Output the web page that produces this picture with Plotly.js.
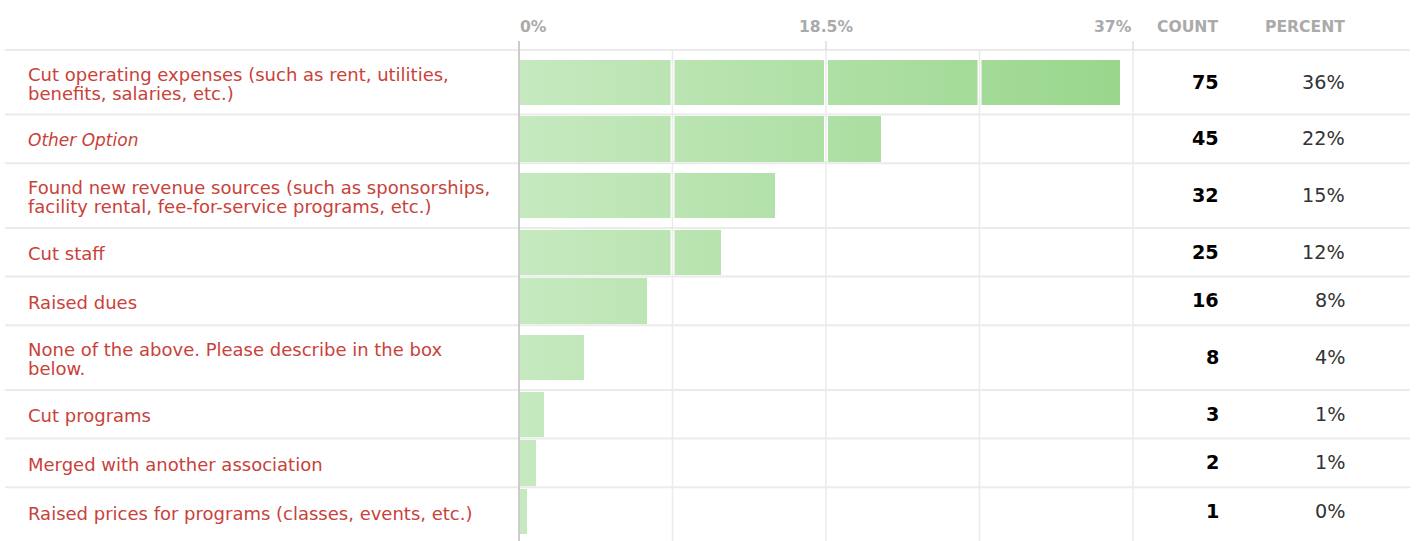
<!DOCTYPE html>
<html><head><meta charset="utf-8">
<script src="https://cdn.plot.ly/plotly-3.0.1.min.js"></script>
<style>html,body{margin:0;padding:0;background:#fff;} #chart{width:1417px;height:541px;}</style>
</head><body><div id="chart"></div>
<script>
// ---- data ----
const categories = [
  'Cut operating expenses (such as rent, utilities,<br>benefits, salaries, etc.)',
  'Other Option',
  'Found new revenue sources (such as sponsorships,<br>facility rental, fee-for-service programs, etc.)',
  'Cut staff',
  'Raised dues',
  'None of the above. Please describe in the box<br>below.',
  'Cut programs',
  'Merged with another association',
  'Raised prices for programs (classes, events, etc.)'
];
const counts = [75, 45, 32, 25, 16, 8, 3, 2, 1];
const percentLabels = ['36%', '22%', '15%', '12%', '8%', '4%', '1%', '1%', '0%'];
const barPercents = [36.2, 21.8, 15.4, 12.2, 7.7, 3.9, 1.5, 1.0, 0.5];
const axisMax = 37;
const tickValues = [0, 18.5, 37];
const tickLabels = ['0%', '18.5%', '37%'];
const gridValues = [9.25, 18.5, 27.75, 37];
const columnHeaders = ['COUNT', 'PERCENT'];
const italicCategories = ['Other Option'];

// ---- layout constants ----
const W = 1417, H = 541, L = 519, R = 1133, T = 50;
const plotW = R - L, plotH = H - T;
const ONE = 48.7, TWO = 64.6, LINE = 19.3, BAR = 45.5;
const FONT = 'DejaVu Sans';
const px2paperX = px => (px - L) / plotW;
const y2paper = y => 1 - y / plotH;

const lines = categories.map(c => c.split('<br>'));
const heights = lines.map(l => l.length > 1 ? TWO : ONE);
const tops = []; let acc = 0;
heights.forEach(h => { tops.push(acc); acc += h; });
const centers = tops.map((t, i) => t + heights[i] / 2);

const trace = {
  type: 'bar', orientation: 'h',
  x: barPercents, y: centers, width: BAR,
  marker: {color: '#b5e2ab', line: {width: 0}},
  hoverinfo: 'skip', showlegend: false
};

const shapes = [];
// row separators
tops.forEach(t => shapes.push({type: 'line', xref: 'paper', yref: 'paper',
  x0: px2paperX(5), x1: px2paperX(1410), y0: y2paper(t), y1: y2paper(t),
  line: {color: '#ebebeb', width: 2}, layer: 'below'}));
// white gaps in bars at grid positions
barPercents.forEach((v, i) => {
  gridValues.forEach(g => {
    if (g < v) shapes.push({type: 'line', xref: 'paper', yref: 'paper',
      x0: g / axisMax, x1: g / axisMax,
      y0: y2paper(centers[i] - BAR / 2), y1: y2paper(centers[i] + BAR / 2),
      line: {color: '#ffffff', width: 4}, layer: 'above'});
  });
});
// vertical grid lines
gridValues.forEach(g => shapes.push({type: 'line', xref: 'paper', yref: 'paper',
  x0: g / axisMax, x1: g / axisMax, y0: 0, y1: 1,
  line: {color: '#ebebeb', width: 1.5}, layer: 'above'}));
// tick marks above header line
tickValues.forEach(v => shapes.push({type: 'line', xref: 'paper', yref: 'paper',
  x0: v / axisMax, x1: v / axisMax, y0: 1, y1: 1 + 9 / plotH,
  line: {color: '#cccccc', width: 1}, layer: 'above'}));
// zero line
shapes.push({type: 'line', xref: 'paper', yref: 'paper', x0: 0, x1: 0, y0: 0, y1: 1 + 9 / plotH,
  line: {color: '#cccccc', width: 2}, layer: 'above'});

const annotations = [];
const headerY = 1 + (T - 26.5) / plotH;
tickLabels.forEach((t, i) => annotations.push({
  text: t, xref: 'paper', yref: 'paper', x: tickValues[i] / axisMax, y: headerY,
  xanchor: i === 0 ? 'left' : (i === tickLabels.length - 1 ? 'right' : 'center'),
  yanchor: 'middle', showarrow: false, borderpad: 0,
  font: {family: FONT, size: 15.6, color: '#aaaaaa', weight: 'bold'}
}));
const headerRight = [1218.5, 1345.5];
columnHeaders.forEach((t, i) => annotations.push({
  text: t, xref: 'paper', yref: 'paper', x: px2paperX(headerRight[i]), y: headerY,
  xanchor: 'right', align: 'right', yanchor: 'middle', showarrow: false, borderpad: 0,
  font: {family: FONT, size: 15.6, color: '#aaaaaa', weight: 'bold'}
}));
lines.forEach((ls, i) => {
  const italic = italicCategories.includes(categories[i]);
  ls.forEach((txt, j) => annotations.push({
    text: txt, xref: 'paper', yref: 'y', x: px2paperX(27),
    y: centers[i] + (j - (ls.length - 1) / 2) * LINE + 1.5,
    xanchor: 'left', align: 'left', yanchor: 'middle', showarrow: false, borderpad: 0,
    font: {family: FONT, size: italic ? 17 : 18, color: '#c8423a', style: italic ? 'italic' : 'normal'}
  }));
  annotations.push({
    text: String(counts[i]), xref: 'paper', yref: 'y', x: px2paperX(1219.5), y: centers[i],
    xanchor: 'right', align: 'right', yanchor: 'middle', showarrow: false, borderpad: 0,
    font: {family: FONT, size: 19.2, color: '#000000', weight: 'bold'}
  });
  annotations.push({
    text: percentLabels[i], xref: 'paper', yref: 'y', x: px2paperX(1346), y: centers[i],
    xanchor: 'right', align: 'right', yanchor: 'middle', showarrow: false, borderpad: 0,
    font: {family: FONT, size: 19.2, color: '#333333'}
  });
});

const layout = {
  width: W, height: H,
  margin: {l: L, r: W - R, t: T, b: 0, pad: 0},
  paper_bgcolor: '#ffffff', plot_bgcolor: '#ffffff',
  xaxis: {range: [0, axisMax], showgrid: false, zeroline: false, showticklabels: false,
          ticks: '', showline: false, fixedrange: true},
  yaxis: {range: [plotH, 0], showgrid: false, zeroline: false, showticklabels: false,
          ticks: '', showline: false, fixedrange: true},
  bargap: 0, showlegend: false,
  shapes: shapes, annotations: annotations,
  font: {family: FONT}
};

const gd = document.getElementById('chart');
Plotly.newPlot(gd, [trace], layout, {staticPlot: true, displayModeBar: false}).then(() => {
  const ns = 'http://www.w3.org/2000/svg';
  const svg = gd.querySelector('svg.main-svg');
  let defs = svg.querySelector('defs');
  if (!defs) { defs = document.createElementNS(ns, 'defs'); svg.insertBefore(defs, svg.firstChild); }
  const lg = document.createElementNS(ns, 'linearGradient');
  lg.setAttribute('id', 'barGrad');
  lg.setAttribute('gradientUnits', 'userSpaceOnUse');
  lg.setAttribute('x1', '0'); lg.setAttribute('y1', '0');
  lg.setAttribute('x2', String(plotW)); lg.setAttribute('y2', '0');
  [['0', '#c6e9bf'], ['1', '#98d68b']].forEach(([o, c]) => {
    const s = document.createElementNS(ns, 'stop');
    s.setAttribute('offset', o); s.setAttribute('stop-color', c);
    lg.appendChild(s);
  });
  defs.appendChild(lg);
  gd.querySelectorAll('.barlayer .point path').forEach(p => { p.style.fill = 'url(#barGrad)'; });
});
</script>
</body></html>
